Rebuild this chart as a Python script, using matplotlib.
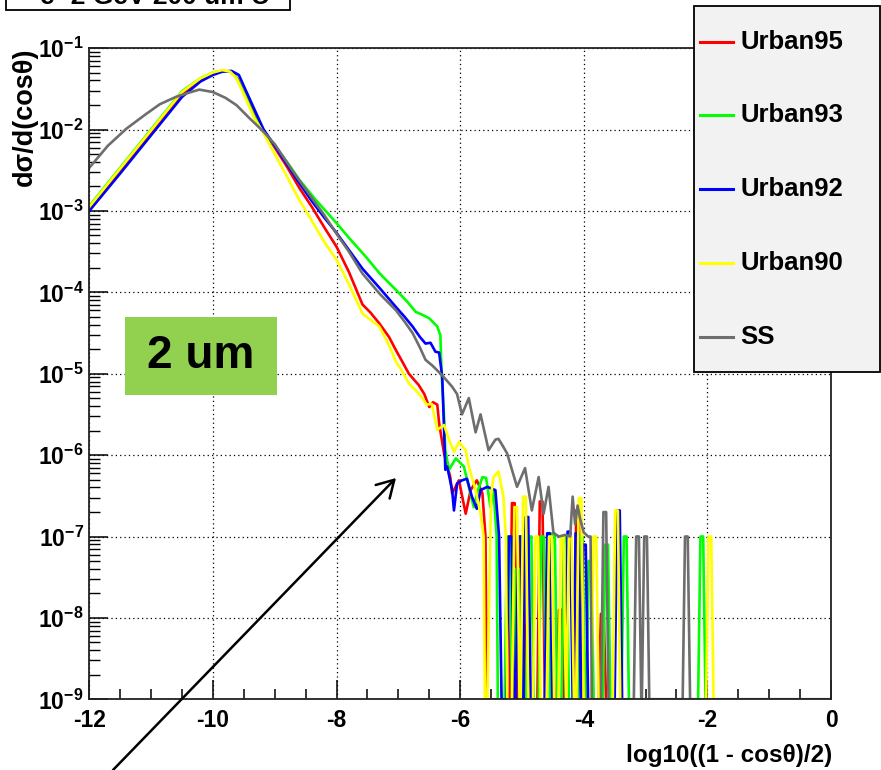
import numpy as np
import matplotlib
matplotlib.use('Agg')
import matplotlib.pyplot as plt
from matplotlib import font_manager
from matplotlib.patches import Rectangle
from matplotlib.lines import Line2D
from matplotlib.ticker import MultipleLocator, LogLocator, NullFormatter

# --- fonts ---
names = {f.name for f in font_manager.fontManager.ttflist}
NARROW = 'Liberation Sans Narrow' if 'Liberation Sans Narrow' in names else 'Liberation Sans'
REGULAR = 'Liberation Sans'
plt.rcParams['font.family'] = [REGULAR, 'DejaVu Sans']
plt.rcParams['mathtext.fontset'] = 'custom'
plt.rcParams['mathtext.bf'] = REGULAR + ':bold'
plt.rcParams['mathtext.rm'] = REGULAR

# ==============================================================================
# DATA: log10(dsigma/dcos), x = log10((1-cos)/2)
# ==============================================================================
FLOOR = -9.0   # empty bins are drawn on the axis

series_names = ['Urban95', 'Urban93', 'Urban92', 'Urban90', 'SS']
series_colors = ['#ff0000', '#00ff00', '#0000ff', '#ffff00', '#6e6e6e']

red_x = [-12.0, -11.5, -11.0, -10.5, -10.2, -10.0, -9.85, -9.7, -9.6, -9.45, -9.3, -9.2,
         -9.0, -8.8, -8.6, -8.4, -8.2, -8.0, -7.8, -7.58, -7.45, -7.31, -7.15, -7.04,
         -6.93, -6.83, -6.67, -6.58, -6.5, -6.44, -6.37, -6.34, -6.26, -6.16, -6.13,
         -6.02, -5.91, -5.83, -5.73, -5.64, -5.59, -5.57]
red_ly = [-2.97, -2.50, -2.03, -1.56, -1.39, -1.31, -1.28, -1.29, -1.38, -1.62, -1.84, -1.99,
          -2.22, -2.46, -2.72, -2.95, -3.20, -3.44, -3.75, -4.15, -4.25, -4.38, -4.55, -4.71,
          -4.86, -5.00, -5.14, -5.25, -5.41, -5.35, -5.38, -5.61, -5.98, -6.27, -6.47,
          -6.31, -6.72, -6.43, -6.31, -6.47, -7.0, FLOOR]
red_spike_x = [-5.14, -5.00, -4.69, -4.38, -4.10, -3.70]
red_spike_ly = [-6.59, -7.0, -6.57, -7.9, -6.68, -7.95]

green_x = [-12.0, -11.5, -11.0, -10.5, -10.2, -10.0, -9.85, -9.72, -9.62, -9.48, -9.33, -9.2,
           -9.0, -8.8, -8.6, -8.33, -8.0, -7.8, -7.53, -7.3, -7.04, -6.85, -6.72, -6.6,
           -6.50, -6.37, -6.32, -6.30, -6.26, -6.24, -6.18, -6.07, -5.94, -5.86, -5.78,
           -5.72, -5.64, -5.58, -5.51, -5.46, -5.41, -5.39]
green_ly = [-2.94, -2.47, -2.00, -1.53, -1.37, -1.30, -1.28, -1.29, -1.36, -1.58, -1.84, -2.00,
            -2.20, -2.40, -2.62, -2.87, -3.15, -3.33, -3.56, -3.77, -3.97, -4.12, -4.24, -4.28,
            -4.32, -4.42, -4.53, -5.00, -5.53, -5.94, -6.18, -6.04, -6.14, -6.39, -6.64,
            -6.45, -6.27, -6.28, -6.64, -6.43, -7.0, FLOOR]
green_spike_x = [-5.22, -5.07, -4.87, -4.67, -4.49, -4.30, -4.04, -3.90, -3.63, -3.33, -2.09]
green_spike_ly = [-7.0, -7.4, -7.0, -7.0, -6.96, -7.0, -7.0, -7.3, -7.1, -7.0, -7.0]

blue_x = [-12.0, -11.5, -11.0, -10.5, -10.2, -10.0, -9.85, -9.7, -9.58, -9.45, -9.3, -9.18,
          -9.0, -8.8, -8.6, -8.4, -8.2, -8.0, -7.8, -7.58, -7.3, -7.04, -6.9, -6.77, -6.65,
          -6.56, -6.48, -6.40, -6.34, -6.29, -6.26, -6.24, -6.21, -6.13, -6.10, -6.05,
          -5.97, -5.89, -5.81, -5.73, -5.67, -5.56, -5.43, -5.37, -5.33]
blue_ly = [-3.00, -2.54, -2.07, -1.60, -1.41, -1.33, -1.29, -1.28, -1.33, -1.55, -1.80, -2.00,
           -2.20, -2.43, -2.66, -2.88, -3.08, -3.27, -3.48, -3.71, -3.95, -4.18, -4.30, -4.42, -4.55,
           -4.63, -4.62, -4.73, -4.74, -5.04, -5.69, -6.18, -6.14, -6.43, -6.68, -6.35,
           -6.31, -6.29, -6.51, -6.66, -6.43, -6.39, -6.43, -7.0, FLOOR]
blue_spike_x = [-5.19, -5.04, -4.92, -4.57, -4.24, -4.11, -3.99, -3.44]
blue_spike_ly = [-7.0, -7.0, -6.76, -6.96, -6.94, -6.96, -7.1, -6.68]

yellow_x = [-12.0, -11.5, -11.0, -10.5, -10.2, -10.0, -9.85, -9.72, -9.62, -9.48, -9.33, -9.2,
            -9.0, -8.8, -8.6, -8.4, -8.2, -8.0, -7.8, -7.58, -7.31, -7.15, -7.04, -6.93,
            -6.83, -6.67, -6.54, -6.46, -6.37, -6.26, -6.18, -6.10, -6.02, -5.91, -5.86,
            -5.75, -5.67, -5.62, -5.60, -5.56, -5.50, -5.46, -5.38, -5.30, -5.26, -5.24]
yellow_ly = [-2.95, -2.48, -2.01, -1.54, -1.37, -1.30, -1.27, -1.29, -1.37, -1.60, -1.86, -2.02,
             -2.30, -2.58, -2.87, -3.12, -3.38, -3.60, -3.90, -4.26, -4.42, -4.65, -4.85, -4.98,
             -5.12, -5.24, -5.38, -5.37, -5.69, -5.63, -5.81, -5.96, -5.84, -5.94, -6.14,
             -6.43, -6.72, -7.0, FLOOR, FLOOR, -6.5, -6.27, -6.20, -6.51, -7.0, FLOOR]
yellow_spike_x = [-5.10, -4.96, -4.76, -4.54, -4.35, -4.22, -4.06, -3.82, -3.47, -1.96]
yellow_spike_ly = [-6.64, -6.51, -7.0, -7.0, -7.0, -7.0, -6.53, -7.0, -6.68, -7.0]

gray_x = [-12.0, -11.7, -11.4, -11.1, -10.86, -10.6, -10.4, -10.22, -10.0, -9.8, -9.62, -9.41,
          -9.19, -9.0, -8.7, -8.4, -8.2, -8.0, -7.8, -7.58, -7.3, -7.04, -6.9, -6.77, -6.65,
          -6.56, -6.45, -6.29, -6.13, -6.05, -5.97, -5.86, -5.75, -5.67, -5.59, -5.54, -5.43,
          -5.38, -5.30, -5.24, -5.08, -4.95, -4.84, -4.73, -4.65, -4.57, -4.49, -4.40, -4.30,
          -4.22, -4.18, -4.14, -4.10, -4.06, -4.00, -3.93, -3.89, -3.87]
gray_ly = [-2.47, -2.20, -1.99, -1.82, -1.69, -1.60, -1.55, -1.51, -1.54, -1.61, -1.70, -1.86,
           -2.02, -2.18, -2.52, -2.84, -3.05, -3.28, -3.50, -3.77, -4.02, -4.22, -4.36, -4.50, -4.68,
           -4.83, -4.90, -5.02, -5.16, -5.25, -5.50, -5.30, -5.72, -5.50, -5.77, -5.94, -5.81,
           -5.80, -5.90, -5.98, -6.39, -6.16, -6.68, -6.27, -6.72, -6.39, -6.96, -7.0, -6.98,
           -7.0, -6.51, -6.85, -6.62, -6.78, -6.95, -7.0, -7.0, FLOOR]
gray_spike_x = [-3.66, -3.13, -3.00, -2.34]
gray_spike_ly = [-6.70, -7.0, -7.0, -7.0]

x_ticks = [-12, -10, -8, -6, -4, -2, 0]
x_tick_labels = ['-12', '-10', '-8', '-6', '-4', '-2', '0']
y_exponents = [-9, -8, -7, -6, -5, -4, -3, -2, -1]


def build(xs, lys, sx, sly):
    # continuous part, then isolated spikes (bins surrounded by empty ones), then empty bins up to 0
    vx, vy = list(xs), list(lys)
    for xc, top in zip(sx, sly):
        vx += [xc - 0.06, xc - 0.022, xc + 0.022, xc + 0.06]
        vy += [FLOOR, top, top, FLOOR]
    vx.append(0.0)
    vy.append(FLOOR)
    return np.array(vx), 10.0 ** np.array(vy)


curves = [
    build(red_x, red_ly, red_spike_x, red_spike_ly),
    build(green_x, green_ly, green_spike_x, green_spike_ly),
    build(blue_x, blue_ly, blue_spike_x, blue_spike_ly),
    build(yellow_x, yellow_ly, yellow_spike_x, yellow_spike_ly),
    build(gray_x, gray_ly, gray_spike_x, gray_spike_ly),
]

# ==============================================================================
# PLOT
# ==============================================================================
W, H = 881, 770
fig = plt.figure(figsize=(W / 100, H / 100), dpi=100)
fig.patch.set_facecolor('white')
ax = fig.add_axes([89.3 / W, 1 - 699.3 / H, (831 - 89.3) / W, (699.3 - 48.1) / H])

for (vx, vy), c in zip(curves, series_colors):
    ax.plot(vx, vy, color=c, lw=1.9)

ax.set_yscale('log')
ax.set_xlim(-12, 0)
ax.set_ylim(1e-9, 1e-1)

ax.set_xticks(x_ticks)
ax.set_xticklabels(x_tick_labels)
ax.xaxis.set_minor_locator(MultipleLocator(0.5))
ax.set_yticks([10.0 ** e for e in y_exponents])
ax.set_yticklabels([r'$\mathbf{10^{%d}}$' % e for e in y_exponents])
ax.yaxis.set_minor_locator(LogLocator(base=10, subs=np.arange(2, 10), numticks=30))
ax.yaxis.set_minor_formatter(NullFormatter())

ax.tick_params(axis='both', which='major', direction='in', width=1.1, color='black')
ax.tick_params(axis='x', which='major', length=14, pad=7, labelsize=16.5)
ax.tick_params(axis='x', which='minor', direction='in', length=7, width=1.1)
ax.tick_params(axis='y', which='major', length=14, pad=4, labelsize=16.5)
ax.tick_params(axis='y', which='minor', direction='in', length=8, width=1.0)
for lbl in ax.get_xticklabels():
    lbl.set_fontweight('bold')

ax.grid(True, which='major', color='black', linestyle=(0, (1, 2.5)), lw=0.9)
ax.set_axisbelow(True)
for s in ax.spines.values():
    s.set_color('#222222')
    s.set_linewidth(1.3)

# axis titles
fig.text(25 / W, 1 - 47 / H, 'd\u03c3/d(cos\u03b8)', rotation=90, ha='center', va='top',
         fontsize=19.5, fontweight='bold', family=[NARROW, REGULAR, 'DejaVu Sans'])
fig.text(832 / W, 1 - 762 / H, 'log10((1 - cos\u03b8)/2)', ha='right', va='baseline',
         fontsize=17.5, fontweight='bold', family=[NARROW, REGULAR, 'DejaVu Sans'])

# legend box (drawn by hand, ROOT style)
fig.add_artist(Rectangle((694 / W, 1 - 372 / H), 186 / W, 366 / H, transform=fig.transFigure,
                         facecolor='#f2f2f2', edgecolor='black', lw=1.3, zorder=5))
for i, (name, c) in enumerate(zip(series_names, series_colors)):
    yy = 1 - (41.7 + i * 73.7) / H
    fig.add_artist(Line2D([700 / W, 733 / W], [yy, yy], transform=fig.transFigure,
                          color=c, lw=2.2, zorder=6))
    fig.text(740 / W, yy, name, ha='left', va='center', fontsize=18.5, fontweight='bold',
             family=[NARROW, REGULAR], zorder=7)

# title pave, cut off at the top of the picture
fig.add_artist(Rectangle((5.7 / W, 1 - 10 / H), 284 / W, 40 / H, transform=fig.transFigure,
                         facecolor='white', edgecolor='black', lw=1.3, zorder=5))
fig.text(40 / W, 1 - 4 / H, 'e- 2 GeV 200 um U', ha='left', va='baseline', fontsize=19,
         fontweight='bold', family=[NARROW, REGULAR], zorder=6)

# green label box
fig.add_artist(Rectangle((125 / W, 1 - 395 / H), 152 / W, 78 / H, transform=fig.transFigure,
                         facecolor='#92d050', edgecolor='none', zorder=5))
fig.text(201 / W, 1 - 356 / H, '2 um', ha='center', va='center', fontsize=33,
         fontweight='bold', family=REGULAR, zorder=6)

# arrow
ax.annotate('', xy=(396 / W, 1 - 478 / H), xytext=(113 / W, 0.0),
            xycoords='figure fraction', textcoords='figure fraction',
            arrowprops=dict(arrowstyle='->,head_length=12,head_width=7', mutation_scale=1,
                            color='black', lw=1.8, shrinkA=0, shrinkB=0),
            annotation_clip=False)

fig.savefig('out.png', dpi=100)
